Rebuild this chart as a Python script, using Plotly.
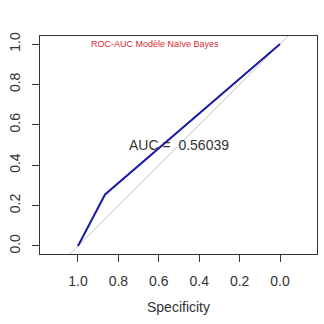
import plotly.graph_objects as go

# ROC curve data (specificity on x, sensitivity on y)
roc_specificity = [1.0, 0.866, 0.0]
roc_sensitivity = [0.0, 0.255, 1.0]

# reference diagonal (abline sens = 1 - spec)
diag_specificity = [1.3, -0.3]
diag_sensitivity = [1 - s for s in diag_specificity]

tick_vals = [0.0, 0.2, 0.4, 0.6, 0.8, 1.0]
tick_text = ["0.0", "0.2", "0.4", "0.6", "0.8", "1.0"]

title_text = "ROC-AUC Modèle Naïve Bayes"
auc_label = "AUC =\u00a0\u00a00.56039"
x_title = "Specificity"

fig = go.Figure()
fig.add_trace(go.Scatter(x=diag_specificity, y=diag_sensitivity, mode="lines",
                         line=dict(color="#c4c4c4", width=1), hoverinfo="skip"))
fig.add_trace(go.Scatter(x=roc_specificity, y=roc_sensitivity, mode="lines",
                         line=dict(color="#1a1aa8", width=2)))

fig.add_annotation(x=0.5, y=0.5, xref="x", yref="y", text=auc_label,
                   showarrow=False, font=dict(family="Liberation Sans, Arial", size=14, color="#333333"))
fig.add_annotation(x=0.62, y=1.0, xref="x", yref="y", text=title_text,
                   showarrow=False, font=dict(family="Liberation Sans, Arial", size=9, color="#dc2a30"))

axis_common = dict(showline=True, linecolor="#333333", linewidth=1, mirror=True,
                   ticks="outside", ticklen=7, tickcolor="#333333", showgrid=False,
                   zeroline=False, tickfont=dict(family="Liberation Sans, Arial", size=14, color="#333333"),
                   tickvals=tick_vals, ticktext=tick_text)

fig.update_layout(
    width=324, height=324,
    margin=dict(l=40, r=7, t=36, b=70),
    paper_bgcolor="white", plot_bgcolor="white",
    showlegend=False,
    xaxis=dict(range=[1.188, -0.183], title=dict(text=x_title, standoff=14,
               font=dict(family="Liberation Sans, Arial", size=14, color="#333333")),
               ticklabelstandoff=7, **axis_common),
    yaxis=dict(range=[-0.04, 1.04], tickangle=-90, ticklabelstandoff=6, **axis_common),
)

fig.write_html("out.html")
